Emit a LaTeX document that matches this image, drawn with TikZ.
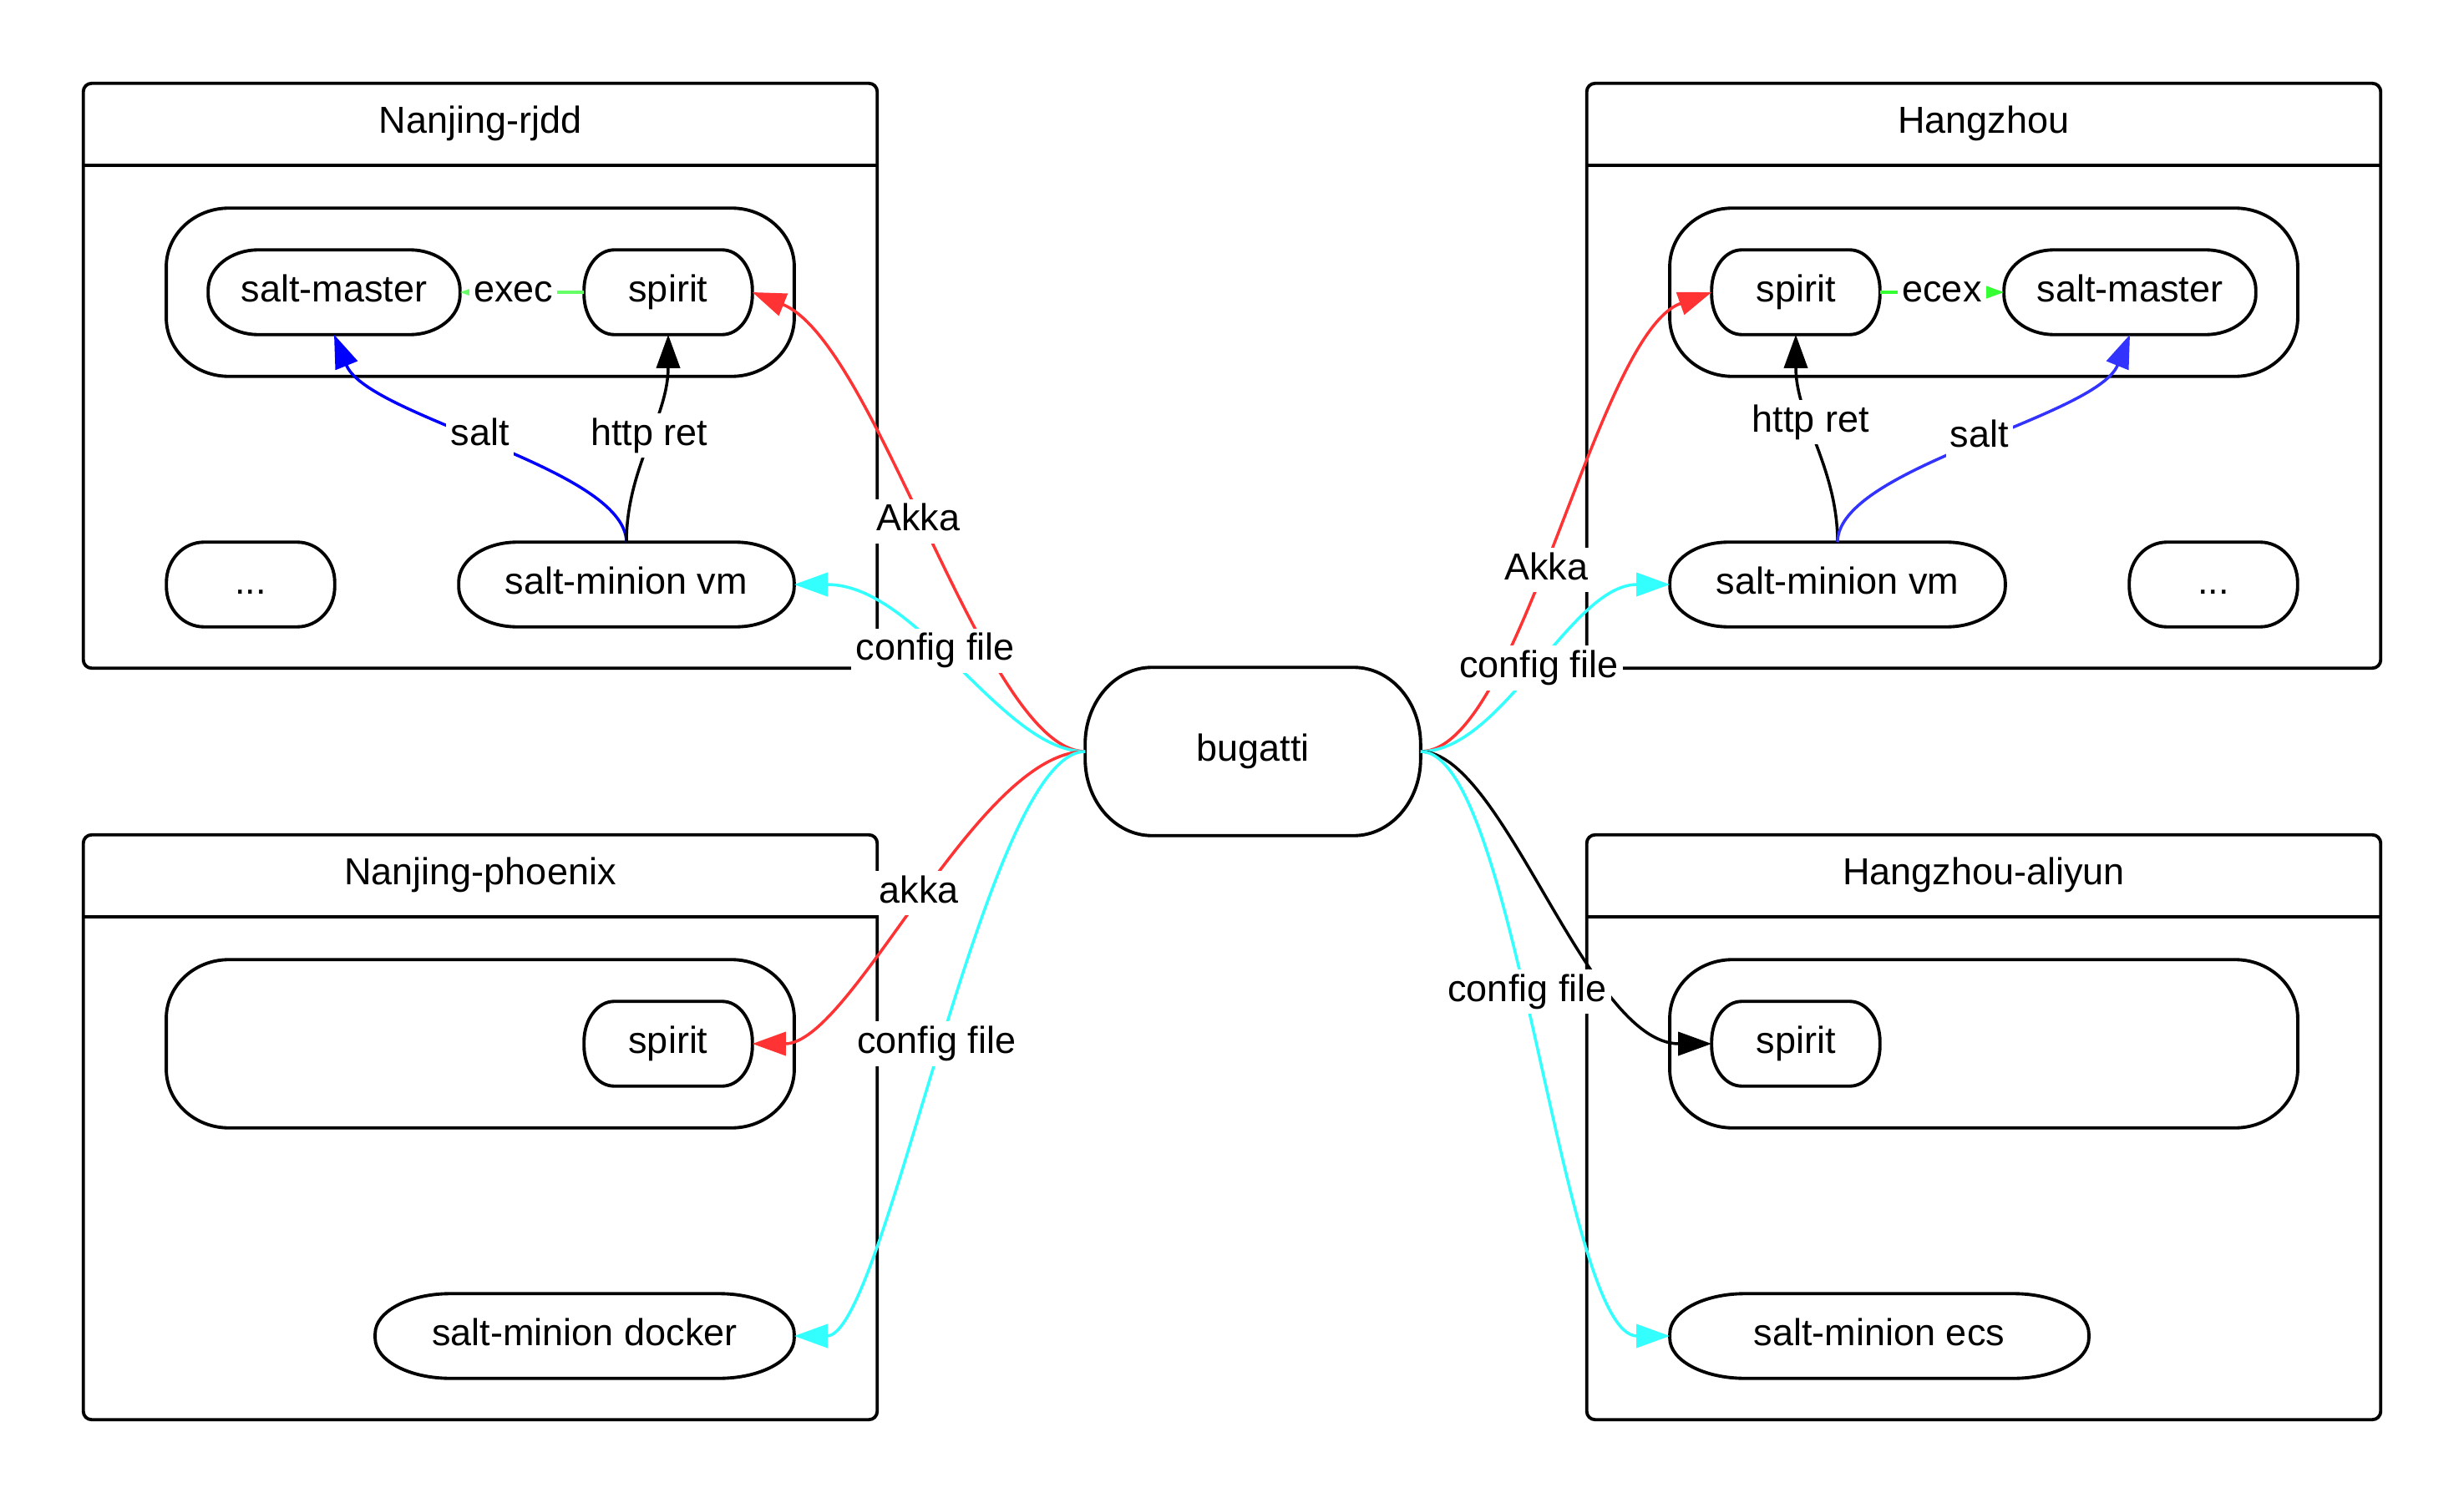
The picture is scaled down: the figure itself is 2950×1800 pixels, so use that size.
\documentclass[tikz,border=0pt]{standalone}
\usepackage{fontspec}
\setmainfont{Liberation Sans}
\usetikzlibrary{arrows.meta}
\definecolor{cred}{HTML}{FF3333}
\definecolor{ccyan}{HTML}{33FFFF}
\definecolor{cblueA}{HTML}{0000FF}
\definecolor{cblueB}{HTML}{3333FF}
\definecolor{cgreenA}{HTML}{66FF66}
\definecolor{cgreenB}{HTML}{33FF33}
% outline with elliptical corners around a named node: name, rx, ry
\newcommand\pillline[3]{%
  \draw[shapeline] ([xshift=#2]#1.north west) -- ([xshift=-#2]#1.north east)
    arc[start angle=90,end angle=0,x radius=#2,y radius=#3]
    -- ([yshift=#3]#1.south east)
    arc[start angle=0,end angle=-90,x radius=#2,y radius=#3]
    -- ([xshift=#2]#1.south west)
    arc[start angle=270,end angle=180,x radius=#2,y radius=#3]
    -- ([yshift=-#3]#1.north west)
    arc[start angle=180,end angle=90,x radius=#2,y radius=#3] -- cycle;}
\begin{document}
\begin{tikzpicture}[x=0.01cm,y=0.01cm,
  font=\fontsize{12.8pt}{15pt}\selectfont,
  txt/.style={text height=0.33cm, text depth=0.095cm},
  shapeline/.style={line width=1.1pt, black},
  pill/.style={rectangle, inner sep=0pt, draw=none, txt},
  container/.style={rectangle, draw, line width=1.1pt, rounded corners=0.1cm, inner sep=0pt, minimum width=9.5cm, minimum height=7cm},
  lbl/.style={fill=white, inner sep=1.5pt, txt},
  conn/.style={line width=1pt, -{Triangle[length=0.4cm,width=0.28cm]}},
]
\useasboundingbox (0,0) rectangle (2950,-1800);

% ---------- containers ----------
\node[container] (nrbox) at (575,-450) {};
\node[container] (hzbox) at (2375,-450) {};
\node[container] (npbox) at (575,-1350) {};
\node[container] (habox) at (2375,-1350) {};
\foreach \b in {nrbox,hzbox,npbox,habox}
  \draw[shapeline] ([yshift=-1cm]\b.north west) -- ([yshift=-1cm]\b.north east);
\node[txt] (nrtitle) at ([yshift=-0.5cm]nrbox.north) {Nanjing-rjdd};
\node[txt] (hztitle) at ([yshift=-0.5cm]hzbox.north) {Hangzhou};
\node[txt] (nptitle) at ([yshift=-0.5cm]npbox.north) {Nanjing-phoenix};
\node[txt] (hatitle) at ([yshift=-0.5cm]habox.north) {Hangzhou-aliyun};

% ---------- groups ----------
\node[pill, minimum width=7.5cm, minimum height=2cm] (nrgrp) at (575,-350) {};
\node[pill, minimum width=7.5cm, minimum height=2cm] (hzgrp) at (2375,-350) {};
\node[pill, minimum width=7.5cm, minimum height=2cm] (npgrp) at (575,-1250) {};
\node[pill, minimum width=7.5cm, minimum height=2cm] (hagrp) at (2375,-1250) {};

% ---------- pills ----------
\node[pill, minimum width=3cm, minimum height=1cm] (nrsm) at (400,-350) {salt-master};
\node[pill, minimum width=2cm, minimum height=1cm] (nrsp) at (800,-350) {spirit};
\node[pill, minimum width=2cm, minimum height=1cm] (nrdots) at (300,-700) {...};
\node[pill, minimum width=4cm, minimum height=1cm] (nrvm) at (750,-700) {salt-minion vm};

\node[pill, minimum width=2cm, minimum height=1cm] (hzsp) at (2150,-350) {spirit};
\node[pill, minimum width=3cm, minimum height=1cm] (hzsm) at (2550,-350) {salt-master};
\node[pill, minimum width=4cm, minimum height=1cm] (hzvm) at (2200,-700) {salt-minion vm};
\node[pill, minimum width=2cm, minimum height=1cm] (hzdots) at (2650,-700) {...};

\node[pill, minimum width=2cm, minimum height=1cm] (npsp) at (800,-1250) {spirit};
\node[pill, minimum width=5cm, minimum height=1cm] (npdk) at (700,-1600) {salt-minion docker};

\node[pill, minimum width=2cm, minimum height=1cm] (hasp) at (2150,-1250) {spirit};
\node[pill, minimum width=5cm, minimum height=1cm] (haecs) at (2250,-1600) {salt-minion ecs};

\node[pill, minimum width=4cm, minimum height=2cm] (bug) at (1500,-900) {bugatti};

% outlines
\pillline{nrgrp}{0.75cm}{0.7cm}
\pillline{hzgrp}{0.75cm}{0.7cm}
\pillline{npgrp}{0.75cm}{0.7cm}
\pillline{hagrp}{0.75cm}{0.7cm}
\pillline{nrsm}{0.6cm}{0.48cm}
\pillline{nrsp}{0.36cm}{0.48cm}
\pillline{nrdots}{0.45cm}{0.48cm}
\pillline{nrvm}{0.7cm}{0.48cm}
\pillline{hzsp}{0.36cm}{0.48cm}
\pillline{hzsm}{0.6cm}{0.48cm}
\pillline{hzvm}{0.7cm}{0.48cm}
\pillline{hzdots}{0.45cm}{0.48cm}
\pillline{npsp}{0.36cm}{0.48cm}
\pillline{npdk}{0.9cm}{0.48cm}
\pillline{hasp}{0.36cm}{0.48cm}
\pillline{haecs}{0.9cm}{0.48cm}
\pillline{bug}{0.8cm}{0.92cm}

% ---------- connectors ----------
\draw[conn, cgreenA] (nrsp.west) -- (nrsm.east) coordinate[pos=0.57] (lexec);
\draw[conn, cblueA] (nrvm.north) .. controls (749,-560) and (440,-500) .. (nrsm.south) coordinate[pos=0.53] (lnrsalt);
\draw[conn, black] (nrvm.north) .. controls (750,-560) and (800,-500) .. (nrsp.south) coordinate[pos=0.53] (lnrhttp);

\draw[conn, cgreenB] (hzsp.east) -- (hzsm.west) coordinate[pos=0.5] (lecex);
\draw[conn, black] (hzvm.north) .. controls (2200,-560) and (2150,-500) .. (hzsp.south) coordinate[pos=0.6] (lhzhttp);
\draw[conn, cblueB] (hzvm.north) .. controls (2200,-560) and (2510,-500) .. (hzsm.south) coordinate[pos=0.52] (lhzsalt);

\draw[conn, cred] (bug.west) .. controls (1180,-900) and (1050,-410) .. (nrsp.east) coordinate[pos=0.53] (lakkaA);
\draw[conn, ccyan] (bug.west) .. controls (1200,-900) and (1100,-700) .. (nrvm.east) coordinate[pos=0.57] (lcfgA);
\draw[conn, cred] (bug.west) .. controls (1170,-900) and (1020,-1250) .. (npsp.east) coordinate[pos=0.49] (lakkaB);
\draw[conn, ccyan] (bug.west) .. controls (1180,-900) and (1060,-1600) .. (npdk.east) coordinate[pos=0.5] (lcfgB);

\draw[conn, cred] (bug.east) .. controls (1820,-900) and (1910,-400) .. (hzsp.west) coordinate[pos=0.45] (lakkaC);
\draw[conn, ccyan] (bug.east) .. controls (1800,-900) and (1880,-700) .. (hzvm.west) coordinate[pos=0.5] (lcfgC);
\draw[conn, black] (bug.east) .. controls (1800,-900) and (1900,-1250) .. (hasp.west);
\draw[conn, ccyan] (bug.east) .. controls (1815,-900) and (1870,-1600) .. (haecs.west) coordinate[pos=0.44] (lcfgD);

% ---------- labels ----------
\node[lbl] (texec) at (lexec) {exec};
\node[lbl] (tnrsalt) at (lnrsalt) {salt};
\node[lbl] (tnrhttp) at (lnrhttp) {http ret};
\node[lbl] (tecex) at (lecex) {ecex};
\node[lbl] (thzhttp) at (lhzhttp) {http ret};
\node[lbl] (thzsalt) at (lhzsalt) {salt};
\node[lbl] (takkaA) at (lakkaA) {Akka};
\node[lbl] (tcfgA) at (lcfgA) {config file};
\node[lbl] (takkaB) at (lakkaB) {akka};
\node[lbl] (tcfgB) at (lcfgB) {config file};
\node[lbl] (takkaC) at (lakkaC) {Akka};
\node[lbl] (tcfgC) at (lcfgC) {config file};
\node[lbl] (tcfgD) at (lcfgD) {config file};
\end{tikzpicture}
\end{document}
